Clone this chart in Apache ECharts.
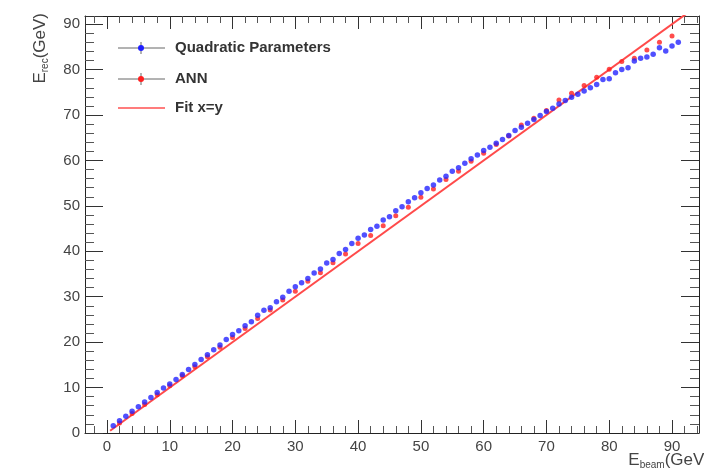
<!DOCTYPE html>
<html>
<head>
<meta charset="utf-8">
<script src="https://cdn.jsdelivr.net/npm/echarts@6/dist/echarts.min.js"></script>
<style>
html,body{margin:0;padding:0;background:#fff;}
#chart{width:704px;height:470px;}
</style>
</head>
<body>
<div id="chart"></div>
<script>
// ---- data ----
var quadX = [1,2,3,4,5,6,7,8,9,10,11,12,13,14,15,16,17,18,19,20,21,22,23,24,25,26,27,28,29,30,
  31,32,33,34,35,36,37,38,39,40,41,42,43,44,45,46,47,48,49,50,51,52,53,54,55,56,57,58,59,60,
  61,62,63,64,65,66,67,68,69,70,71,72,73,74,75,76,77,78,79,80,81,82,83,84,85,86,87,88,89,90,91];
var quadY = [1.6,2.7,3.7,4.8,5.8,6.8,7.8,8.9,9.9,10.8,11.8,12.9,14.0,15.1,16.2,17.2,18.3,19.4,20.6,21.7,
  22.5,23.6,24.5,25.9,27.0,27.6,28.9,29.9,31.2,32.2,33.1,34.0,35.2,36.1,37.4,38.2,39.5,40.4,41.7,42.9,
  43.6,44.8,45.5,46.9,47.6,48.9,49.8,50.9,51.8,52.9,53.8,54.6,55.7,56.5,57.6,58.4,59.4,60.4,61.2,62.2,
  62.9,63.8,64.6,65.5,66.6,67.3,68.2,69.0,69.9,70.8,71.5,72.4,73.2,73.9,74.6,75.3,76.0,76.7,77.8,78.0,
  79.3,80.0,80.4,81.9,82.5,82.8,83.4,84.8,84.1,85.2,86.0];
var annX = [2,4,6,8,10,12,14,16,18,20,22,24,26,28,30,32,34,36,38,40,42,44,46,48,50,
  52,54,56,58,60,62,64,66,68,70,72,74,76,78,80,82,84,86,88,90];
var annY = [2.2,4.3,6.3,8.4,10.4,12.6,14.6,16.8,18.9,21.0,23.0,25.2,27.1,29.3,31.2,33.4,35.3,37.5,39.4,41.7,
  43.5,45.6,47.8,49.7,51.9,53.7,55.8,57.6,59.8,61.6,63.5,65.4,67.8,69.3,71.0,73.3,74.8,76.5,78.3,80.1,
  81.8,82.5,84.3,86.0,87.4];
var fitX = [0.5, 95];
var fitY = [0.5, 95];
var legendNames = ['Quadratic Parameters', 'ANN', 'Fit x=y'];

function zip(a, b) { return a.map(function (v, i) { return [v, b[i]]; }); }

var chart = echarts.init(document.getElementById('chart'), null, {renderer: 'canvas'});
var FONT = '"Liberation Sans", Arial, sans-serif';
var labelStyle = {fontFamily: FONT, fontSize: 15, color: '#444'};

function xAx(pos, showLabel) {
  return {
    type: 'value', position: pos, min: -3.5, max: 94.3, splitNumber: 10,
    axisLine: {show: true, onZero: false, lineStyle: {color: '#222', width: 1}},
    axisTick: {show: true, inside: true, length: 13, lineStyle: {color: '#333'}},
    minorTick: {show: true, splitNumber: 5, length: 7, lineStyle: {color: '#555'}},
    splitLine: {show: false},
    axisLabel: Object.assign({show: showLabel, margin: 6, showMinLabel: false, showMaxLabel: false}, labelStyle)
  };
}
function yAx(pos, showLabel) {
  return {
    type: 'value', position: pos, min: 0, max: 91.8, interval: 10,
    axisLine: {show: true, onZero: false, lineStyle: {color: '#222', width: 1}},
    axisTick: {show: true, inside: true, length: 18, lineStyle: {color: '#333'}},
    minorTick: {show: true, splitNumber: 5, length: 9, lineStyle: {color: '#555'}},
    splitLine: {show: false},
    axisLabel: Object.assign({show: showLabel, margin: 5, showMaxLabel: false}, labelStyle)
  };
}

var legendItems = [];
var legY = [48, 79, 108];
var legColors = ['#1f1fff', '#ff1f1f', '#ff5050'];
legendNames.forEach(function (name, i) {
  var y = legY[i];
  if (i < 2) {
    legendItems.push({type: 'line', shape: {x1: 118, y1: y, x2: 165, y2: y}, style: {stroke: '#666', lineWidth: 1}});
    legendItems.push({type: 'line', shape: {x1: 141, y1: y - 6, x2: 141, y2: y + 6}, style: {stroke: '#666', lineWidth: 1}});
    legendItems.push({type: 'circle', shape: {cx: 141, cy: y, r: 3}, style: {fill: legColors[i]}});
  } else {
    legendItems.push({type: 'line', shape: {x1: 118, y1: y, x2: 165, y2: y}, style: {stroke: legColors[i], lineWidth: 1.5}});
  }
  legendItems.push({type: 'text', x: 175, y: y, style: {text: name, fontFamily: FONT, fontWeight: 'bold', fontSize: 15, fill: '#333', verticalAlign: 'middle', align: 'left'}});
});

var titleRich = {
  a: {fontFamily: FONT, fontSize: 17, fill: '#444', lineHeight: 20, verticalAlign: 'middle'},
  s: {fontFamily: FONT, fontSize: 10, fill: '#444', lineHeight: 20, verticalAlign: 'bottom', padding: [7, 0, 0, 0]}
};
// axis titles
legendItems.push({
  type: 'text', x: 40, y: 13, rotation: Math.PI / 2,
  style: {text: '{a|E}{s|rec}{a|(GeV)}', align: 'right', verticalAlign: 'middle', rich: titleRich}
});
legendItems.push({
  type: 'text', x: 710, y: 460,
  style: {text: '{a|E}{s|beam}{a|(GeV)}', align: 'right', verticalAlign: 'middle', rich: titleRich}
});

chart.setOption({
  animation: false,
  backgroundColor: '#fff',
  grid: {left: 85, right: 5, top: 16, bottom: 37, containLabel: false},
  xAxis: [xAx('bottom', true), xAx('top', false)],
  yAxis: [yAx('left', true), yAx('right', false)],
  series: [
    {name: legendNames[2], type: 'line', xAxisIndex: 0, yAxisIndex: 0, data: zip(fitX, fitY),
     showSymbol: false, symbol: 'none', clip: true, lineStyle: {color: '#ff4a4a', width: 2}, z: 1},
    {name: legendNames[1], type: 'scatter', xAxisIndex: 0, yAxisIndex: 0, data: zip(annX, annY),
     symbol: 'circle', symbolSize: 5, itemStyle: {color: '#ff1f1f'}, z: 2},
    {name: legendNames[0], type: 'scatter', xAxisIndex: 0, yAxisIndex: 0, data: zip(quadX, quadY),
     symbol: 'circle', symbolSize: 5.5, itemStyle: {color: '#2424ff'}, z: 3}
  ],
  graphic: legendItems
});
</script>
</body>
</html>
